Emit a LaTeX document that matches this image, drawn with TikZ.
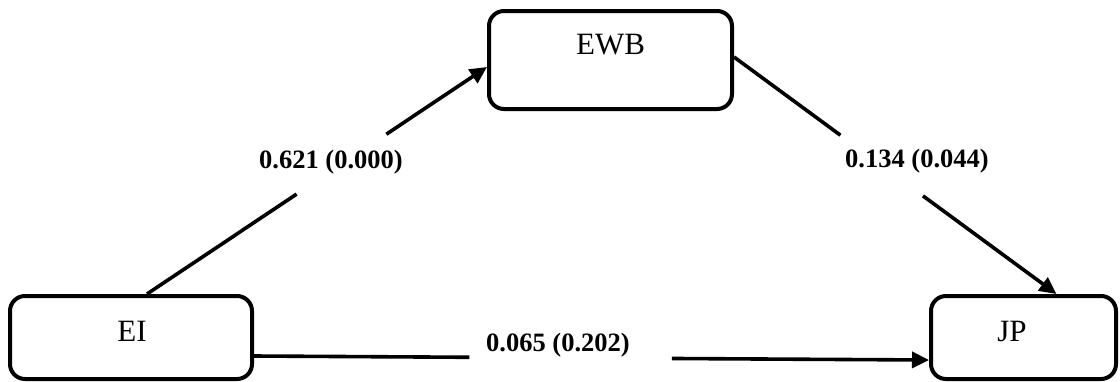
\documentclass[tikz,border=0pt]{standalone}
\usepackage{fontspec}
\setmainfont{Liberation Serif}
\usetikzlibrary{arrows.meta,calc}

\tikzset{
  varbox/.style={draw=black, line width=4pt, rounded corners=15pt, inner sep=0pt},
  boxtext/.style={font=\fontsize{31}{31}\selectfont, inner sep=0pt},
  path/.style={draw=black, line width=3.6pt},
  arrowpath/.style={path, -{Triangle[length=17pt,width=16pt]}},
  coef/.style={font=\fontsize{26.5}{26.5}\selectfont\bfseries, inner sep=0pt}
}

\begin{document}
\begin{tikzpicture}[x=1pt, y=-1pt]
  \useasboundingbox (0,0) rectangle (1120,381);

  % variable boxes
  \node[varbox, minimum width=242pt, minimum height=83pt,
        label={[boxtext, xshift=1pt, yshift=6.5pt]center:EI}] (ei) at (131,337.5) {};
  \node[varbox, minimum width=243pt, minimum height=98pt,
        label={[boxtext, yshift=15pt]center:EWB}] (ewb) at (610.5,60) {};
  \node[varbox, minimum width=185pt, minimum height=83pt,
        label={[boxtext, xshift=-11.5pt, yshift=6.5pt]center:JP}] (jp) at (1023.5,337.5) {};

  % attachment points on the boxes
  \coordinate (eiTop)  at ($(ei.north)+(16,0)$);
  \coordinate (ewbIn)  at ($(ewb.west)+(0,7)$);
  \coordinate (ewbOut) at ($(ewb.east)+(0,-3)$);
  \coordinate (jpTop)  at ($(jp.north)+(33,0)$);
  \coordinate (eiOut)  at ($(ei.east)+(0,18.5)$);
  \coordinate (jpIn)   at ($(jp.west)+(0,22.5)$);

  % gaps left open for the coefficients
  \coordinate (a1) at ($(eiTop)!0.44!(ewbIn)$);
  \coordinate (a2) at ($(eiTop)!0.704!(ewbIn)$);
  \coordinate (b1) at ($(ewbOut)!0.33!(jpTop)$);
  \coordinate (b2) at ($(ewbOut)!0.586!(jpTop)$);
  \coordinate (c1) at ($(eiOut)!0.319!(jpIn)$);
  \coordinate (c2) at ($(eiOut)!0.619!(jpIn)$);

  % paths
  \draw[path] (eiTop) -- (a1);
  \draw[arrowpath] (a2) -- (ewbIn);
  \draw[path] (ewbOut) -- (b1);
  \draw[arrowpath] (b2) -- (jpTop);
  \draw[path] (eiOut) -- (c1);
  \draw[arrowpath] (c2) -- (jpIn);

  % path coefficients
  \node[coef] (lab1) at (331,162) {0.621 (0.000)};
  \node[coef] (lab2) at (917,161) {0.134 (0.044)};
  \node[coef] (lab3) at (558,345) {0.065 (0.202)};
\end{tikzpicture}
\end{document}
